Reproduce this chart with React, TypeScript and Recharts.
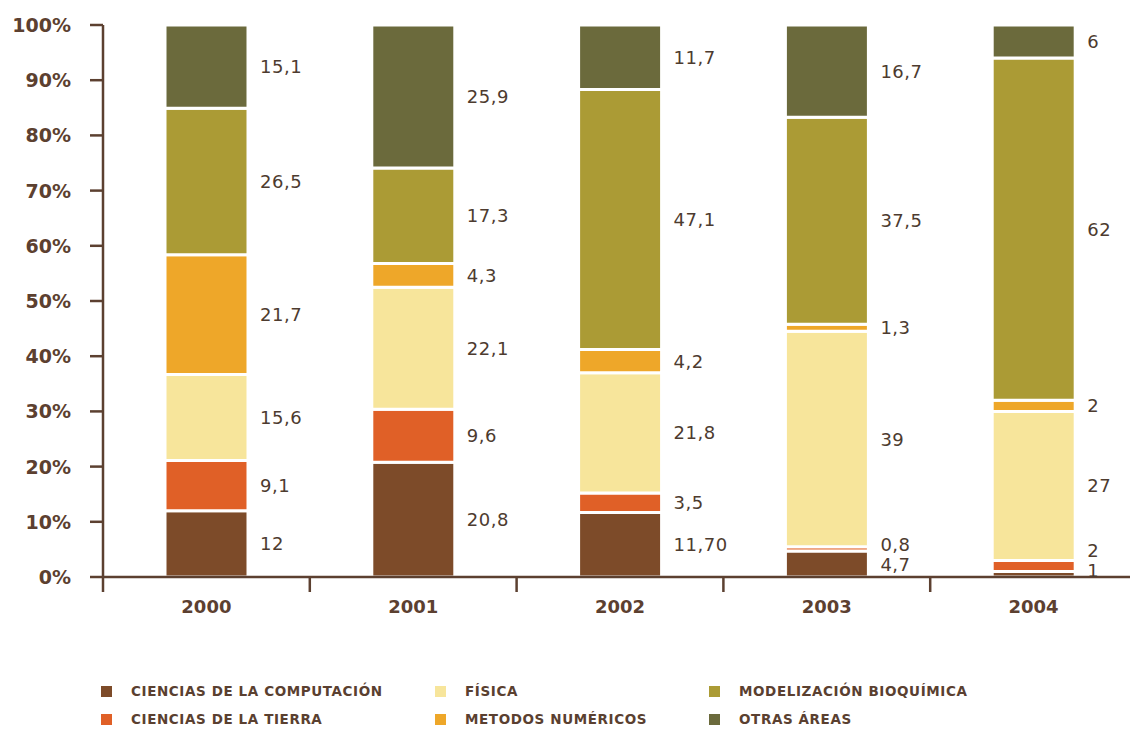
import React from "react";
import { BarChart, Bar, XAxis, YAxis, LabelList } from "recharts";

const years = ["2000", "2001", "2002", "2003", "2004"];
const cienciasComputacion = [12, 20.8, 11.7, 4.7, 1];
const cienciasTierra = [9.1, 9.6, 3.5, 0.8, 2];
const fisica = [15.6, 22.1, 21.8, 39, 27];
const metodosNumericos = [21.7, 4.3, 4.2, 1.3, 2];
const modelizacionBioquimica = [26.5, 17.3, 47.1, 37.5, 62];
const otrasAreas = [15.1, 25.9, 11.7, 16.7, 6];

const labelsCC = ["12", "20,8", "11,70", "4,7", "1"];
const labelsCT = ["9,1", "9,6", "3,5", "0,8", "2"];
const labelsFis = ["15,6", "22,1", "21,8", "39", "27"];
const labelsMN = ["21,7", "4,3", "4,2", "1,3", "2"];
const labelsMB = ["26,5", "17,3", "47,1", "37,5", "62"];
const labelsOA = ["15,1", "25,9", "11,7", "16,7", "6"];

const yTicks = [0, 10, 20, 30, 40, 50, 60, 70, 80, 90, 100];

const series = [
  { key: "cc", name: "CIENCIAS DE LA COMPUTACIÓN", values: cienciasComputacion, labels: labelsCC, color: "#7d4b29" },
  { key: "ct", name: "CIENCIAS DE LA TIERRA", values: cienciasTierra, labels: labelsCT, color: "#e06027" },
  { key: "fis", name: "FÍSICA", values: fisica, labels: labelsFis, color: "#f7e59b" },
  { key: "mn", name: "METODOS NUMÉRICOS", values: metodosNumericos, labels: labelsMN, color: "#eea729" },
  { key: "mb", name: "MODELIZACIÓN BIOQUÍMICA", values: modelizacionBioquimica, labels: labelsMB, color: "#ab9b35" },
  { key: "oa", name: "OTRAS ÁREAS", values: otrasAreas, labels: labelsOA, color: "#6b6a3c" },
];

const data = years.map((y, i) => {
  const row: any = { year: y };
  series.forEach((s) => (row[s.key] = s.values[i]));
  return row;
});

const BROWN = "#5c4030";
const LABEL_COLOR = "#4d3b2f";
const FONT = "'DejaVu Sans', Verdana, sans-serif";

const MIN_SEP = 20;

function labelPositions(i: number, ppu: number) {
  const pos: number[] = [];
  let cum = 0;
  series.forEach((s, k) => {
    const v = s.values[i];
    let mid = (cum + v / 2) * ppu;
    if (k === 0) mid = Math.max(mid, 7);
    else mid = Math.max(mid, pos[k - 1] + MIN_SEP);
    pos.push(mid);
    cum += v;
  });
  return pos;
}

function makeLabel(k: number) {
  return (props: any) => {
    const { x, y, width, height, index } = props;
    const v = series[k].values[index];
    if (!v || !height) return null;
    const ppu = Math.abs(height) / v;
    let cum = 0;
    for (let j = 0; j < k; j++) cum += series[j].values[index];
    const bottom = y + height + cum * ppu;
    const pos = labelPositions(index, ppu)[k];
    return (
      <text
        x={x + width + 12}
        y={bottom - pos}
        fill={LABEL_COLOR}
        fontSize={18}
        fontFamily={FONT}
        dominantBaseline="central"
        letterSpacing={0.5}
      >
        {series[k].labels[index]}
      </text>
    );
  };
}

const PLOT_LEFT = 103;
const PLOT_RIGHT = 1137;
const BAND = (PLOT_RIGHT - PLOT_LEFT) / years.length;

const XTick = (props: any) => {
  const { x, y, payload } = props;
  const bx = x - BAND / 2;
  return (
    <g>
      <line x1={bx} y1={y} x2={bx} y2={y + 15} stroke={BROWN} strokeWidth={2.5} />
      <text
        x={x}
        y={y + 29}
        textAnchor="middle"
        dominantBaseline="central"
        fill={BROWN}
        fontSize={18}
        fontWeight="bold"
        fontFamily={FONT}
      >
        {payload.value}
      </text>
    </g>
  );
};

const YTick = (props: any) => {
  const { y, payload } = props;
  return (
    <g>
      <line x1={PLOT_LEFT - 13} y1={y} x2={PLOT_LEFT} y2={y} stroke={BROWN} strokeWidth={2.5} />
      <text
        x={71}
        y={y}
        textAnchor="end"
        dominantBaseline="central"
        fill={BROWN}
        fontSize={19}
        fontWeight="bold"
        fontFamily={FONT}
      >
        {payload.value}%
      </text>
    </g>
  );
};

const legendPos = [
  { col: 0, row: 0 },
  { col: 0, row: 1 },
  { col: 1, row: 0 },
  { col: 1, row: 1 },
  { col: 2, row: 0 },
  { col: 2, row: 1 },
];
const legendCols = [101, 435, 709];
const legendRows = [691, 719];

export default function App() {
  return (
    <div
      style={{
        position: "absolute",
        left: 0,
        top: 0,
        width: 1130,
        height: 729,
        overflow: "hidden",
        background: "#fff",
      }}
    >
      <BarChart
        width={1140}
        height={640}
        data={data}
        margin={{ top: 25, right: 3, bottom: 0, left: 8 }}
        barSize={83}
      >
        <XAxis
          dataKey="year"
          axisLine={{ stroke: BROWN, strokeWidth: 2.5 }}
          tickLine={false}
          tickSize={0}
          tickMargin={0}
          height={63}
          tick={<XTick />}
          interval={0}
        />
        <YAxis
          domain={[0, 100]}
          ticks={yTicks}
          width={95}
          axisLine={{ stroke: BROWN, strokeWidth: 2.5 }}
          tickLine={false}
          tick={<YTick />}
          interval={0}
        />
        {series.map((s, k) => (
          <Bar
            key={s.key}
            dataKey={s.key}
            stackId="a"
            fill={s.color}
            stroke="#ffffff"
            strokeWidth={3}
            isAnimationActive={false}
          >
            <LabelList dataKey={s.key} content={makeLabel(k)} />
          </Bar>
        ))}
      </BarChart>
      {series.map((s, k) => {
        const p = legendPos[k];
        return (
          <div
            key={s.key}
            style={{
              position: "absolute",
              left: legendCols[p.col],
              top: legendRows[p.row] - 9,
              height: 18,
              display: "flex",
              alignItems: "center",
              fontFamily: FONT,
              fontWeight: "bold",
              fontSize: 13.5,
              letterSpacing: 0.6,
              color: "#5a4030",
              whiteSpace: "nowrap",
            }}
          >
            <span
              style={{
                display: "inline-block",
                width: 11,
                height: 11,
                background: s.color,
                marginRight: 19,
              }}
            />
            <span>{s.name}</span>
          </div>
        );
      })}
    </div>
  );
}
